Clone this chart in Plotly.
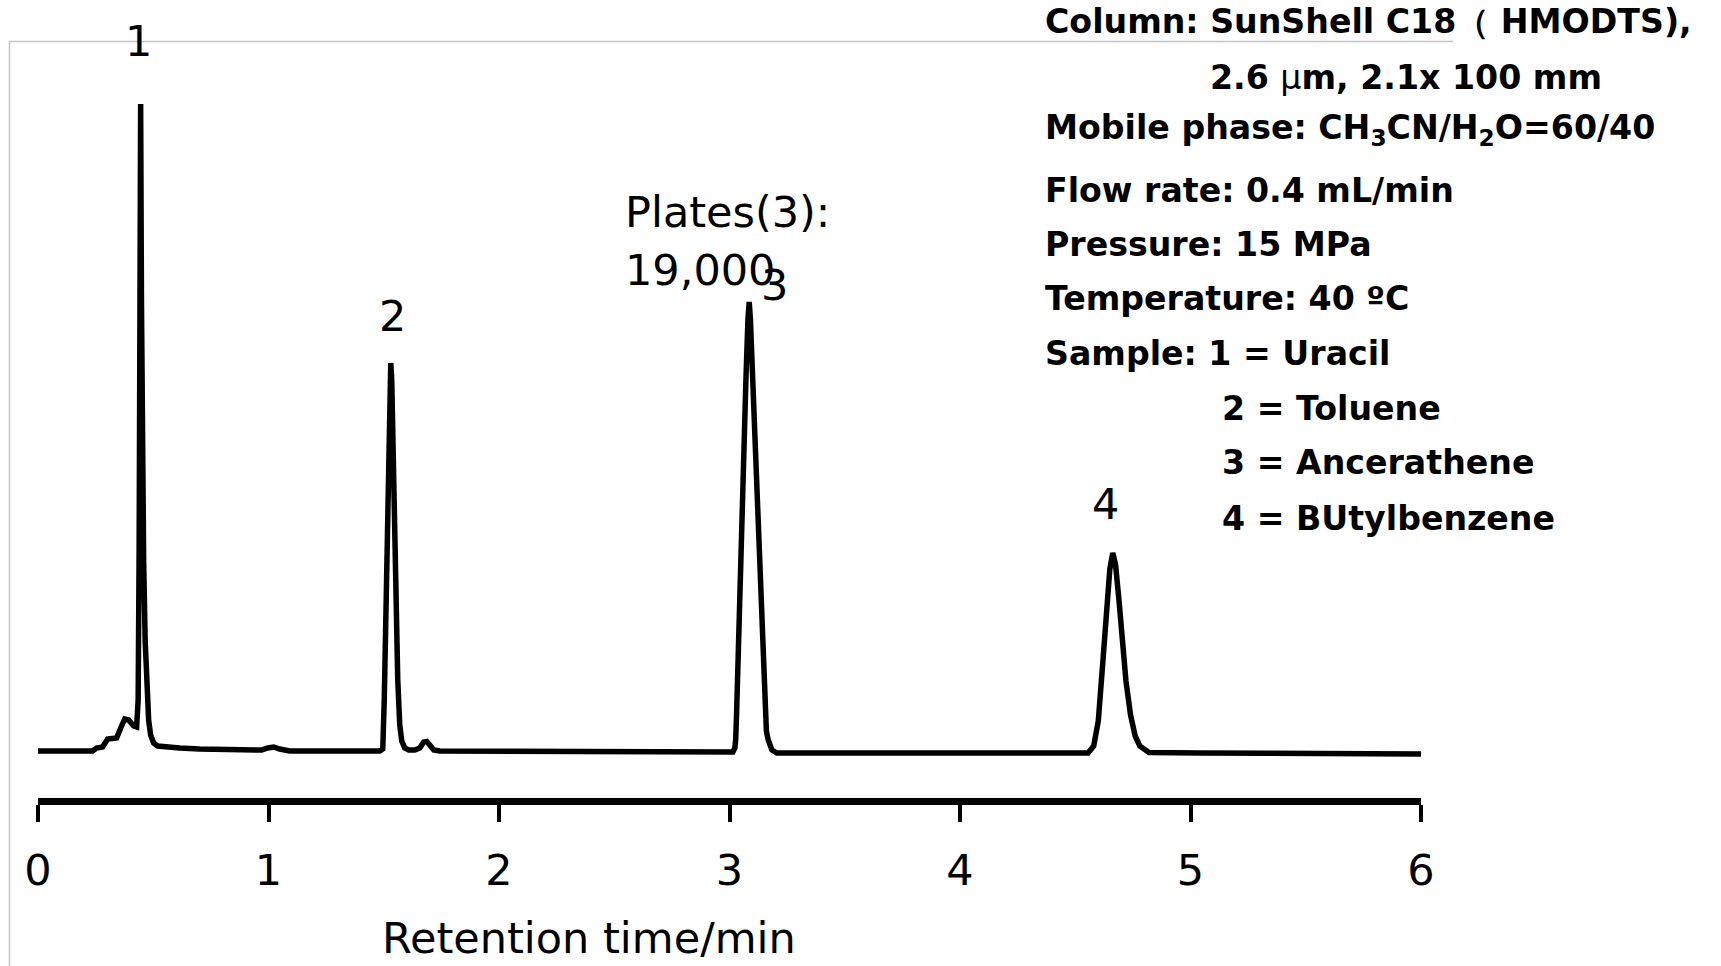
import plotly.graph_objects as go

# ---- data: chromatogram trace (time in min, signal in a.u.) ----
time_min = [
    0.000, 0.237, 0.254, 0.280, 0.302, 0.341, 0.359, 0.376, 0.393, 0.415, 0.428,
    0.4345, 0.4388, 0.4423, 0.4453, 0.4488, 0.4531, 0.4583, 0.4648, 0.4714, 0.4800,
    0.4887, 0.5017, 0.5191, 0.5495, 0.6146, 0.7014, 0.8316, 0.9705, 0.9965, 1.0226,
    1.0486, 1.0920,
    1.4826, 1.4957, 1.5022, 1.5087, 1.5152, 1.5217, 1.5273, 1.5304, 1.5347, 1.5404,
    1.5456, 1.5521, 1.5608, 1.5694, 1.5781, 1.5911, 1.6085, 1.6345, 1.6563, 1.6736,
    1.6866, 1.6997, 1.7170, 1.7431,
    2.0035, 2.4375, 2.8715,
    3.0148, 3.0234, 3.0270, 3.0308, 3.0378, 3.0538, 3.0712, 3.0799, 3.0855, 3.0907,
    3.1003, 3.1246, 3.1437, 3.1536, 3.1600, 3.1680, 3.1750, 3.1840, 3.2057, 3.2622,
    3.8610, 4.1736,
    4.5556, 4.5800, 4.6000, 4.6200, 4.6350, 4.6500, 4.6628, 4.6750, 4.6900, 4.7050,
    4.7200, 4.7400, 4.7600, 4.7800, 4.8000, 4.8200, 5.0417, 5.4757, 6.000,
]
signal = [
    0, 0, 3, 4, 12, 13, 23, 32, 31, 25, 24,
    51, 201, 401, 647, 451, 301, 191, 111, 61, 31,
    16, 8, 5, 4, 3, 2, 1, 1, 3, 4,
    2, 0,
    0, 2, 51, 131, 211, 301, 371, 388, 371, 311,
    211, 131, 71, 26, 10, 3, 1, 1, 3, 9,
    9.5, 6, 1, 0,
    0, -1, -1,
    -1, 3, 12, 38, 104, 224, 371, 431, 449, 431,
    371, 224, 104, 38, 20, 11, 5, 1, -2, -2,
    -1, -2,
    -2, 5, 30, 90, 142, 182, 198, 186, 150, 108,
    70, 36, 15, 5, 1, -1.5, -2, -3, -3,
]

peak_ids = ["1", "2", "3", "4"]
peak_label_time = [0.437, 1.539, 3.197, 4.633]
peak_label_signal = [710, 435, 466, 247]

x_ticks = [0, 1, 2, 3, 4, 5, 6]
x_title = "Retention time/min"
plates_lines = ["Plates(3):", "19,000"]

info_lines = [
    "Column: SunShell C18（ HMODTS),",
    "2.6 <span style='font-weight:normal'>μ</span>m, 2.1x 100 mm",
    "Mobile phase: CH<sub>3</sub>CN/H<sub>2</sub>O=60/40",
    "Flow rate: 0.4 mL/min",
    "Pressure: 15 MPa",
    "Temperature: 40 ºC",
    "Sample: 1 = Uracil",
    "2 = Toluene",
    "3 = Ancerathene",
    "4 = BUtylbenzene",
]

# ---- layout geometry ----
W, H = 1721, 966
L, R, T, B = 38, 300, 41, 168
PW, PH = W - L - R, H - T - B


def px_x(px):
    return (px - L) / PW


def px_y(py):
    return (H - B - py) / PH


FONT = "DejaVu Sans"

fig = go.Figure()
fig.add_trace(go.Scatter(
    x=time_min, y=signal, mode="lines",
    line=dict(color="black", width=5.5),
    hoverinfo="x+y", showlegend=False,
))

annotations = []
for pid, tx, sy in zip(peak_ids, peak_label_time, peak_label_signal):
    annotations.append(dict(
        x=tx, y=sy, xref="x", yref="y", text=pid, showarrow=False,
        font=dict(family=FONT, size=43, color="black"),
        xanchor="center", yanchor="middle",
    ))

plates_y = [212, 270]
for line, py in zip(plates_lines, plates_y):
    annotations.append(dict(
        x=px_x(623), y=px_y(py), xref="paper", yref="paper", text=line,
        showarrow=False, font=dict(family=FONT, size=43, color="black"),
        xanchor="left", yanchor="middle",
    ))

info_x = [1043, 1208, 1043, 1043, 1043, 1043, 1043, 1220, 1220, 1220]
info_y = [22, 77, 129.5, 190, 244, 298.5, 353.5, 408, 463, 518]
for line, px, py in zip(info_lines, info_x, info_y):
    annotations.append(dict(
        x=px_x(px), y=px_y(py), xref="paper", yref="paper", text=line,
        showarrow=False, font=dict(family=FONT + " Bold, " + FONT, size=33.2,
                                   color="black", weight="bold"),
        xanchor="left", yanchor="middle",
    ))

annotations.append(dict(
    x=px_x(589), y=px_y(938), xref="paper", yref="paper", text=x_title,
    showarrow=False, font=dict(family=FONT, size=43, color="black"),
    xanchor="center", yanchor="middle",
))

box_path = "M {:.5f},{:.5f} L {:.5f},{:.5f} L {:.5f},{:.5f}".format(
    px_x(9.5), px_y(966), px_x(9.5), px_y(41.5), px_x(1453), px_y(41.5))

fig.update_layout(
    width=W, height=H,
    margin=dict(l=L, r=R, t=T, b=B, pad=0),
    paper_bgcolor="white", plot_bgcolor="white",
    showlegend=False,
    xaxis=dict(
        range=[0, 6], tickmode="array", tickvals=x_ticks,
        ticktext=[str(v) for v in x_ticks],
        showline=True, linecolor="black", linewidth=7,
        ticks="outside", ticklen=17, tickwidth=4, tickcolor="black",
        ticklabelstandoff=11,
        showgrid=False, zeroline=False,
        tickfont=dict(family=FONT, size=43, color="black"),
        fixedrange=True,
    ),
    yaxis=dict(range=[-47, 710], visible=False, fixedrange=True),
    annotations=annotations,
    shapes=[dict(type="path", path=box_path, xref="paper", yref="paper",
                 line=dict(color="#c4c4c4", width=1.5), layer="below")],
)

fig.write_html(
    "out.html",
    config={"displayModeBar": False},
    post_script="document.body.style.margin='0';document.body.style.padding='0';",
)
